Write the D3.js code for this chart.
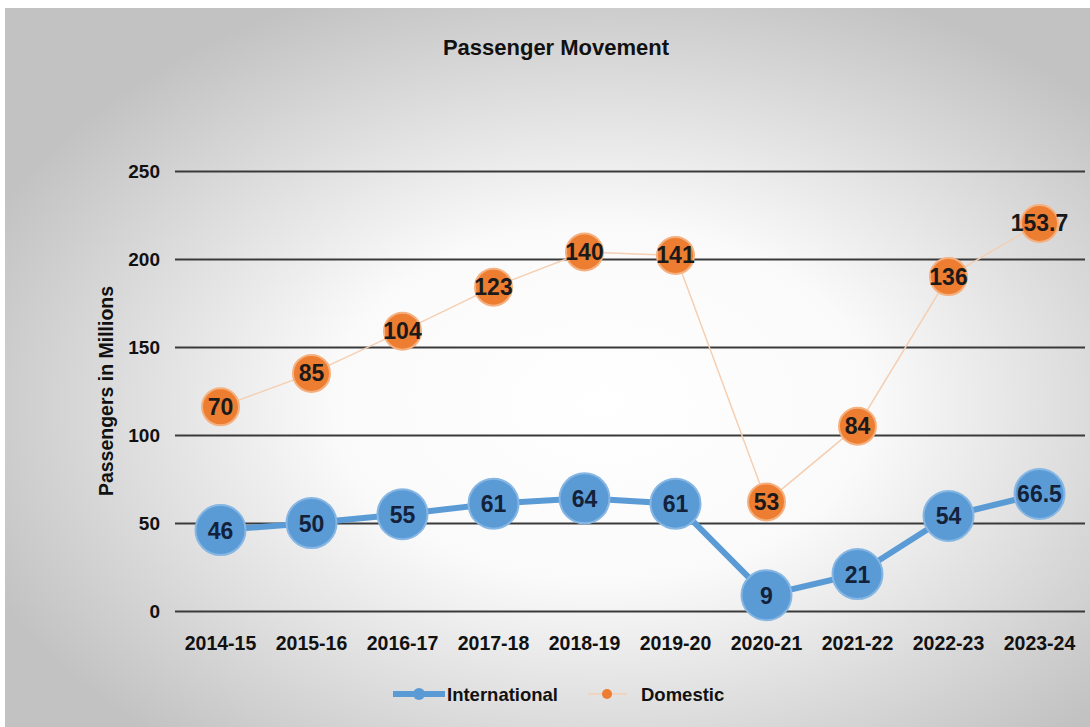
<!DOCTYPE html>
<html><head><meta charset="utf-8">
<script src="https://cdn.jsdelivr.net/npm/d3@7"></script>
<style>body{margin:0;background:#fff}svg{display:block}</style>
</head><body>
<script>
const categories = ["2014-15","2015-16","2016-17","2017-18","2018-19","2019-20","2020-21","2021-22","2022-23","2023-24"];
const international = [46,50,55,61,64,61,9,21,54,66.5];
const domestic = [70,85,104,123,140,141,53,84,136,153.7];
const yTicks = [0,50,100,150,200,250];
const seriesNames = ["International","Domestic"];

const W=1090,H=727;
const font = "'Liberation Sans',Arial,sans-serif";
const svg = d3.select("body").append("svg").attr("width",W).attr("height",H);
const defs = svg.append("defs");
const rg = defs.append("radialGradient").attr("id","bg").attr("cx","55%").attr("cy","55%").attr("r","62%");
rg.append("stop").attr("offset","0%").attr("stop-color","#ffffff");
rg.append("stop").attr("offset","40%").attr("stop-color","#fafafa");
rg.append("stop").attr("offset","100%").attr("stop-color","#c2c2c2");
svg.append("rect").attr("x",5).attr("y",8).attr("width",W-5).attr("height",H-8).attr("fill","url(#bg)");

const x = d3.scaleBand().domain(categories).range([175,1085]);
const y = d3.scaleLinear().domain([0,250]).range([611,171]);

// title
svg.append("text").attr("x",556).attr("y",55).attr("text-anchor","middle")
  .style("font-family",font).style("font-weight","bold").style("font-size","22px").attr("fill","#111").text("Passenger Movement");

// grid
const gy = svg.append("g").attr("transform","translate(175,0)")
  .call(d3.axisLeft(y).tickValues(yTicks).tickSize(-910).tickPadding(15).tickFormat(d3.format("d")));
gy.select(".domain").remove();
gy.selectAll(".tick line").attr("stroke","#3a3a3a").attr("stroke-width",2.2);
gy.selectAll(".tick text").style("font-family",font).style("font-weight","bold").style("font-size","19px").attr("fill","#111");

// x axis labels
const gx = svg.append("g").attr("transform","translate(0,611)")
  .call(d3.axisBottom(x).tickSize(0).tickPadding(25));
gx.select(".domain").remove();
gx.selectAll(".tick text").style("font-family",font).style("font-weight","bold").style("font-size","19.5px").attr("fill","#111");

// y title
svg.append("text").attr("transform","translate(113,391) rotate(-90)").attr("text-anchor","middle")
  .style("font-family",font).style("font-weight","bold").style("font-size","19.5px").attr("fill","#111").text("Passengers in Millions");

const cx = d=>x(d)+x.bandwidth()/2;
const stacked = domestic.map((d,i)=>d+international[i]);

// domestic line (stacked)
svg.append("path").datum(categories)
  .attr("d", d3.line().x(c=>cx(c)).y((c,i)=>y(stacked[i])))
  .attr("fill","none").attr("stroke","#f4cfb3").attr("stroke-width",1.5);
// international line
svg.append("path").datum(categories)
  .attr("d", d3.line().x(c=>cx(c)).y((c,i)=>y(international[i])))
  .attr("fill","none").attr("stroke","#5b9bd5").attr("stroke-width",6);

// domestic markers
const dg = svg.append("g");
categories.forEach((c,i)=>{
  dg.append("circle").attr("cx",cx(c)).attr("cy",y(stacked[i])).attr("r",18.5).attr("fill","#ed7d31").attr("stroke","#f5b07f").attr("stroke-width",2);
});
const ig = svg.append("g");
categories.forEach((c,i)=>{
  ig.append("circle").attr("cx",cx(c)).attr("cy",y(international[i])).attr("r",25).attr("fill","#5b9bd5").attr("stroke","#86b6e3").attr("stroke-width",2);
});
// labels
categories.forEach((c,i)=>{
  svg.append("text").attr("x",cx(c)).attr("y",y(stacked[i])+8).attr("text-anchor","middle")
    .style("font-family",font).style("font-weight","bold").style("font-size","23px").attr("fill","#1a1a1a").text(domestic[i]);
  svg.append("text").attr("x",cx(c)).attr("y",y(international[i])+8.5).attr("text-anchor","middle")
    .style("font-family",font).style("font-weight","bold").style("font-size","23px").attr("fill","#13223a").text(international[i]);
});

// legend
const lg = svg.append("g");
lg.append("line").attr("x1",393).attr("x2",445).attr("y1",694).attr("y2",694).attr("stroke","#5b9bd5").attr("stroke-width",6);
lg.append("circle").attr("cx",419).attr("cy",694).attr("r",6).attr("fill","#5b9bd5");
lg.append("text").attr("x",447).attr("y",701).style("font-family",font).style("font-weight","bold").style("font-size","18.5px").attr("fill","#111").text(seriesNames[0]);
lg.append("line").attr("x1",588).attr("x2",627).attr("y1",694).attr("y2",694).attr("stroke","#f4cfb3").attr("stroke-width",1.5);
lg.append("circle").attr("cx",607).attr("cy",694).attr("r",5).attr("fill","#ed7d31");
lg.append("text").attr("x",641).attr("y",701).style("font-family",font).style("font-weight","bold").style("font-size","18.5px").attr("fill","#111").text(seriesNames[1]);
</script>
</body></html>
